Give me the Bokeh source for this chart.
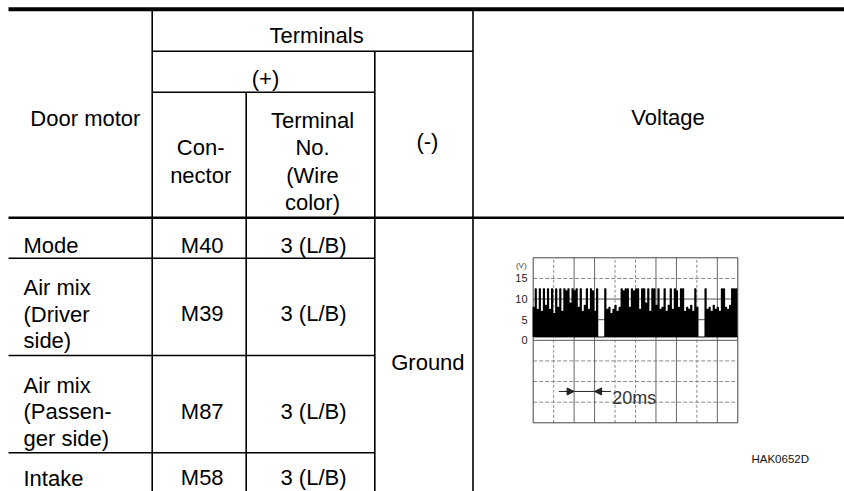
from bokeh.plotting import figure
from bokeh.models import Range1d, Arrow, NormalHead
from bokeh.core.properties import value
from bokeh.embed import file_html
from bokeh.resources import INLINE

# ---------------- data ----------------
header_group = "Terminals"
header_plus = "(+)"
header_minus = "(-)"
header_motor = "Door motor"
header_connector = ["Con-", "nector"]
header_terminal = ["Terminal", "No.", "(Wire", "color)"]
header_voltage = "Voltage"

door_motors = [["Mode"],
               ["Air mix", "(Driver", "side)"],
               ["Air mix", "(Passen-", "ger side)"],
               ["Intake"]]
connectors = ["M40", "M39", "M87", "M58"]
terminal_nos = ["3 (L/B)", "3 (L/B)", "3 (L/B)", "3 (L/B)"]
minus_terminal = "Ground"

# oscilloscope: 10 x 20 ms, 8 x 5 V
volt_tick_values = [15, 10, 5, 0]
volt_tick_labels = ["15", "10", "5", "0"]
volt_unit = "(V)"
time_div_ms = 20
volt_div = 5
n_time_div = 10
n_volt_div = 8
time_span_label = "20ms"
slot_ms = 2
pulse_on_ms = 1
low_level = 0.8
pulse_peaks = [8.0, 12.5, 7.5, 12.5, 7.0, 12.5, 8.5, 12.5, 7.5, 12.5,
               6.5, 12.5, 8.0, 12.5, 7.0, 12.5, 12.0, 12.5, 9.0, 12.5,
               12.0, 12.5, 8.0, 12.5, 7.0, 8.5, 12.5, 7.5, 12.5, 12.0,
               7.0, 12.5, 0.8, 0.8, 0.8, 12.5, 7.5, 8.0, 6.5, 7.5,
               8.5, 7.0, 8.0, 12.5, 12.0, 12.5, 12.5, 8.0, 12.5, 12.0,
               12.5, 12.5, 7.5, 12.5, 12.5, 9.0, 12.5, 7.0, 12.5, 12.5,
               8.5, 12.5, 7.5, 8.0, 12.5, 7.0, 8.5, 12.5, 7.5, 12.5,
               12.0, 8.0, 12.5, 12.5, 7.0, 8.0, 7.5, 8.5, 7.0, 12.5,
               8.0, 0.8, 0.8, 0.8, 12.5, 7.5, 8.0, 7.0, 8.5, 7.5,
               8.0, 7.0, 12.5, 12.5, 8.0, 7.5, 8.5, 12.5, 12.5, 12.5]
figure_code = "HAK0652D"

# ---------------- layout (page pixels) ----------------
PX_L, PX_R, PX_T, PX_B = 0, 844, 0, 491
COL = [8, 151.7, 245.7, 374.3, 472.5, 844]
TOP_Y = 8.7
H1, H2, HEAD_B = 50.7, 91.7, 217.3
BODY = [217.3, 257.7, 355.0, 452.3, 488.0]
FONT = value("Liberation Sans")
FS = "22px"
LH_HEAD, LH_BODY = 27.5, 26.5
THIN = 1.6

SC_L, SC_R, SC_T, SC_B = 532.7, 737.3, 257.3, 422.3  # scope frame in page px

p = figure(width=PX_R - PX_L, height=PX_B - PX_T, output_backend="svg",
           toolbar_location=None, tools="", x_axis_type=None, y_axis_type=None,
           x_range=Range1d(PX_L, PX_R), y_range=Range1d(PX_B, PX_T),
           min_border=0, outline_line_color=None)
p.grid.visible = False
p.background_fill_color = "white"
p.border_fill_color = "white"

t_total = n_time_div * time_div_ms
v_top = n_volt_div / 2 * volt_div
v_bot = -v_top
tpp = t_total / (SC_R - SC_L)
vpp = (v_top - v_bot) / (SC_B - SC_T)
p.extra_x_ranges = {"t": Range1d(0 - (SC_L - PX_L) * tpp, t_total + (PX_R - SC_R) * tpp)}
p.extra_y_ranges = {"v": Range1d(v_bot - (PX_B - SC_B) * vpp, v_top + (SC_T - PX_T) * vpp)}

# ---------------- table rules ----------------
p.segment([COL[0]], [TOP_Y], [COL[-1]], [TOP_Y], line_color="black", line_width=4)
p.segment([COL[0]], [HEAD_B], [COL[-1]], [HEAD_B], line_color="black", line_width=2.6)
hx0 = [COL[1], COL[1]] + [COL[0]] * 3
hx1 = [COL[4], COL[3]] + [COL[3]] * 3
hy = [H1, H2] + BODY[1:4]
p.segment(hx0, hy, hx1, hy, line_color="black", line_width=THIN)
vx = [COL[1], COL[2], COL[3], COL[4]]
vy0 = [TOP_Y, H2, H1, TOP_Y]
p.segment(vx, vy0, vx, [PX_B + 5] * 4, line_color="black", line_width=THIN)

def baselines(center, n, lh, off):
    return [center + (k - (n - 1) / 2) * lh + off for k in range(n)]

tx, ty, tt, ta = [], [], [], []
def put(lines, x, ys, align="center"):
    for s, y in zip(lines, ys):
        tx.append(x); ty.append(y); tt.append(s); ta.append(align)

put([header_group], (COL[1] + COL[4]) / 2 + 4, baselines((TOP_Y + H1) / 2, 1, 0, 5.5))
put([header_plus], (COL[1] + COL[3]) / 2 + 2, baselines((H1 + H2) / 2, 1, 0, 6.5))
put([header_motor], (COL[0] + COL[1]) / 2 + 5, baselines((TOP_Y + HEAD_B) / 2, 1, 0, 5))
put([header_voltage], 667.5, baselines((TOP_Y + HEAD_B) / 2, 1, 0, 4.2))
put(header_connector, (COL[1] + COL[2]) / 2 + 1.5, baselines((H2 + HEAD_B) / 2, 2, LH_HEAD, 6.5))
put(header_terminal, (COL[2] + COL[3]) / 2 + 2, baselines((H2 + HEAD_B) / 2, 4, LH_HEAD, 6.5))
put([header_minus], (COL[3] + COL[4]) / 2 + 3.5, baselines((H2 + HEAD_B) / 2, 1, 0, -13.5))

for i in range(len(connectors)):
    c = (BODY[i] + BODY[i + 1]) / 2
    put(door_motors[i], 23, baselines(c, len(door_motors[i]), LH_BODY, 7.5), "left")
    put([connectors[i]], (COL[1] + COL[2]) / 2 + 3, baselines(c, 1, 0, 7))
    put([terminal_nos[i]], (COL[2] + COL[3]) / 2 + 3, baselines(c, 1, 0, 7))
put([minus_terminal], (COL[3] + COL[4]) / 2 + 4, baselines((BODY[0] + 492.0) / 2, 1, 0, 7.5))

for al in ("left", "center"):
    idx = [k for k in range(len(tt)) if ta[k] == al]
    p.text([tx[k] for k in idx], [ty[k] for k in idx], [tt[k] for k in idx],
           text_font=FONT, text_font_size=FS, text_align=al,
           text_baseline="alphabetic", text_color="black")

p.text([808.5], [458.3], [figure_code], text_font=FONT, text_font_size="11.5px",
       text_align="right", text_baseline="alphabetic", text_color="#111111")

# ---------------- oscilloscope ----------------
R = dict(x_range_name="t", y_range_name="v")
solid_t = [40, 60, 120, 140, 180]
dash_t = [20, 80, 100, 160]
solid_v = [10, 5, 0]
dash_v = [15, -5, -10, -15]
p.segment(dash_t, [v_bot] * len(dash_t), dash_t, [v_top] * len(dash_t),
          line_color="#8a8a8a", line_width=1, line_dash="3 2", **R)
p.segment([0] * len(dash_v), dash_v, [t_total] * len(dash_v), dash_v,
          line_color="#8a8a8a", line_width=1, line_dash="4 2", **R)
p.segment(solid_t, [v_bot] * len(solid_t), solid_t, [v_top] * len(solid_t),
          line_color="#666666", line_width=1, **R)
p.segment([0] * len(solid_v), solid_v, [t_total] * len(solid_v), solid_v,
          line_color="#555555", line_width=1, **R)
p.segment([0, t_total, 0, 0], [v_bot, v_bot, v_bot, v_top],
          [0, t_total, t_total, t_total], [v_top, v_top, v_bot, v_top],
          line_color="#444444", line_width=1, **R)

wx, wy = [], []
for i, pk in enumerate(pulse_peaks):
    t0 = i * slot_ms
    wx += [t0, t0, t0 + pulse_on_ms, t0 + pulse_on_ms]
    wy += [low_level, pk, pk, low_level]
wx.append(t_total); wy.append(low_level)
p.line(wx, wy, line_color="black", line_width=1.2, **R)

p.text([-5.5] * len(volt_tick_values), volt_tick_values, volt_tick_labels,
       text_font=FONT, text_font_size="11px", text_align="right",
       text_baseline="middle", text_color="#222222", **R)
p.text([-6.5], [18.2], [volt_unit], text_font=FONT, text_font_size="8px",
       text_align="right", text_baseline="middle", text_color="#444444", **R)

arrow_v = -12.4
p.segment([25], [arrow_v], [76], [arrow_v], line_color="#222222", line_width=1, **R)
p.add_layout(Arrow(end=NormalHead(size=7, fill_color="#222222", line_color="#222222"),
                   x_start=30, y_start=arrow_v, x_end=40, y_end=arrow_v,
                   line_color="#222222", line_width=1, **R))
p.add_layout(Arrow(end=NormalHead(size=7, fill_color="#222222", line_color="#222222"),
                   x_start=70, y_start=arrow_v, x_end=60, y_end=arrow_v,
                   line_color="#222222", line_width=1, **R))
p.text([77.2], [-13.9], [time_span_label], text_font=FONT, text_font_size="18px",
       text_align="left", text_baseline="alphabetic", text_color="#333333", **R)

open("out.html", "w").write(file_html(p, INLINE))
